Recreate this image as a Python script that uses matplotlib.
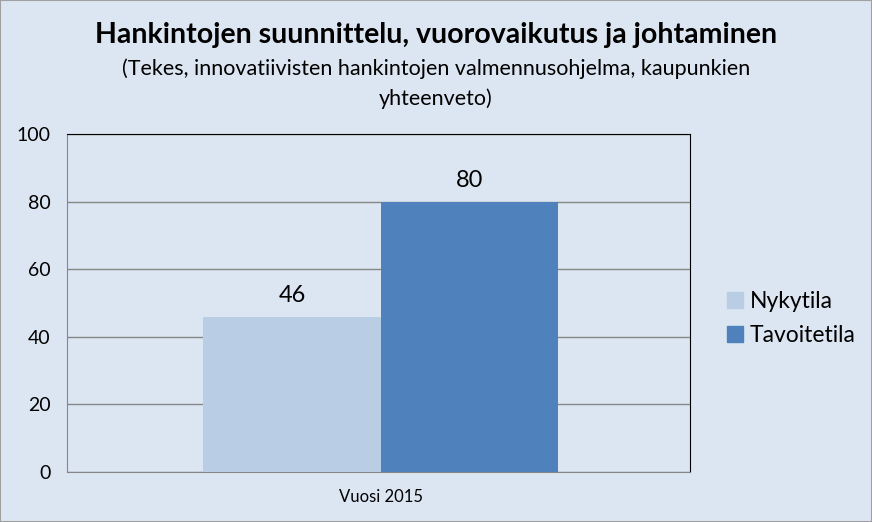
import numpy as np
import matplotlib.pyplot as plt
import matplotlib.patches as mpatches

plt.rcParams['font.family'] = ['Lato', 'DejaVu Sans']

category = ["Vuosi 2015"]
series = ["Nykytila", "Tavoitetila"]
values = [46, 80]
colors = ["#B9CDE5", "#4F81BD"]
bg = "#DCE6F2"

fig = plt.figure(figsize=(8.72, 5.22), dpi=100, facecolor=bg)
ax = fig.add_axes([0.0768, 0.0958, 0.7144, 0.6475])
ax.set_facecolor(bg)

w = 0.285
center = 0.004
offsets = [center - w / 2, center + w / 2]
for name, v, c, off in zip(series, values, colors, offsets):
    ax.bar(off, v, width=w, color=c, label=name, zorder=3)
    ax.text(off, v + 3, str(v), ha="center", va="bottom", fontsize=17, color="#000000")

ax.set_xlim(-0.5, 0.5)
ax.set_ylim(0, 100)
ax.set_yticks(np.arange(0, 101, 20))
ax.set_xticks([center])
ax.set_xticklabels(category, fontsize=12)
ax.tick_params(axis="y", labelsize=14, length=0, pad=12)
ax.tick_params(axis="x", length=0, pad=12)
ax.yaxis.grid(True, color="#868686", linewidth=1, zorder=0)
ax.spines["left"].set_color("#868686")
ax.spines["bottom"].set_color("#868686")
ax.spines["top"].set_color("#000000")
ax.spines["right"].set_color("#000000")

handles = [mpatches.Patch(color=c, label=s) for s, c in zip(series, colors)]
fig.legend(handles=handles, loc="center left", bbox_to_anchor=(0.815, 0.39),
           frameon=False, fontsize=16.5, handlelength=0.7, handleheight=0.7,
           handletextpad=0.3, labelspacing=0.6, borderpad=0.2)

fig.text(0.5, 0.932, "Hankintojen suunnittelu, vuorovaikutus ja johtaminen",
         ha="center", va="center", fontsize=20.5, fontweight="bold")
fig.text(0.5, 0.868, "(Tekes, innovatiivisten hankintojen valmennusohjelma, kaupunkien",
         ha="center", va="center", fontsize=15.5)
fig.text(0.5, 0.81, "yhteenveto)", ha="center", va="center", fontsize=15.5)

fig.patches.append(mpatches.Rectangle((0, 0), 1, 1, transform=fig.transFigure,
                                      fill=False, edgecolor="#A0A0A0", linewidth=1.5))

fig.savefig("out.png", dpi=100, facecolor=bg)
